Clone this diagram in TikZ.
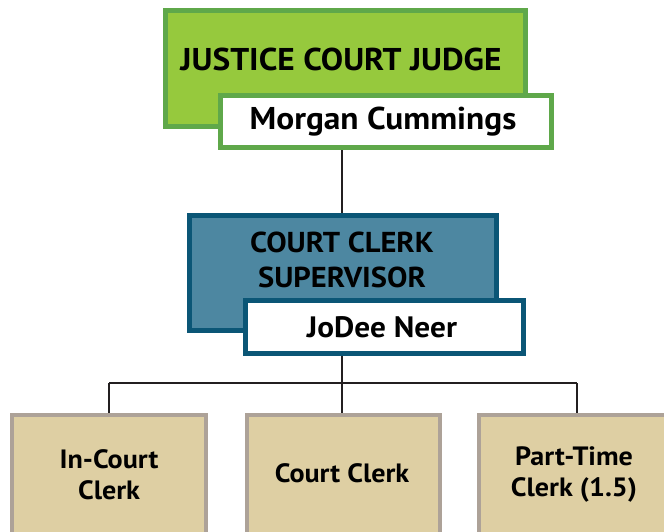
\documentclass[tikz,border=0pt]{standalone}
\usepackage{fontspec}
\setmainfont[FakeStretch=1.06]{PT Sans}
\definecolor{gfill}{HTML}{96C93D}
\definecolor{gline}{HTML}{5FA84A}
\definecolor{bfill}{HTML}{4D87A1}
\definecolor{bline}{HTML}{0B5676}
\definecolor{tfill}{HTML}{DECFA3}
\definecolor{tline}{HTML}{ADA298}
\definecolor{conn}{HTML}{231F20}
\tikzset{
  box/.style={rectangle, inner sep=0pt, line width=5pt},
  greenbox/.style={box, draw=gline, fill=gfill},
  bluebox/.style={box, draw=bline, fill=bfill},
  namebox/.style={box, fill=white},
  tanbox/.style={rectangle, inner sep=0pt, line width=4pt, draw=tline, fill=tfill, minimum width=194pt, minimum height=120pt},
  lbl/.style={font=\bfseries, text=black, inner sep=0pt, align=center},
  conline/.style={draw=conn, line width=2pt}
}
\begin{document}
\begin{tikzpicture}[x=1pt,y=-1pt]
\useasboundingbox (0,0) rectangle (664,531);
% top
\node[greenbox, minimum width=360pt, minimum height=116pt] (judge) at (345,68) {};
\node[lbl, font=\bfseries\fontsize{31.5}{34}\selectfont] (judgetxt) at (341,59) {JUSTICE COURT JUDGE};
\node[namebox, draw=gline, minimum width=331pt, minimum height=52pt] (morgan) at (386,121.5) {};
\node[lbl, font=\bfseries\fontsize{31.5}{34}\selectfont] (morgantxt) at (383,122) {Morgan Cummings};
% supervisor
\node[bluebox, minimum width=307pt, minimum height=115pt] (sup) at (343,273) {};
\node[lbl, font=\bfseries\fontsize{28.8}{35}\selectfont] (suptxt) at (342,260) {COURT CLERK\\SUPERVISOR};
\node[namebox, draw=bline, minimum width=278pt, minimum height=53pt] (jodee) at (384.5,327) {};
\node[lbl, font=\bfseries\fontsize{29.5}{30}\selectfont] (jodeetxt) at (382,327) {JoDee Neer};
% children
\node[tanbox] (c1) at (109,475) {};
\node[tanbox, minimum width=193pt] (c2) at (343.5,475) {};
\node[tanbox, minimum width=196pt] (c3) at (577,475) {};
\node[lbl, font=\bfseries\fontsize{26.5}{31}\selectfont] (c1txt) at (109,475) {In-Court\\Clerk};
\node[lbl, font=\bfseries\fontsize{26.5}{31}\selectfont] (c2txt) at (342,473) {Court Clerk};
\node[lbl, font=\bfseries\fontsize{26.5}{31}\selectfont] (c3txt) at (574,474) {Part-Time\\Clerk (1.5)};
% connectors
\coordinate (bus) at (342,383);
\draw[conline] (morgan.south -| bus) -- (sup.north -| bus);
\draw[conline] (jodee.south -| bus) -- (bus);
\draw[conline] (bus -| c1.north) -- (bus -| c3.north);
\draw[conline] (bus -| c1.north) -- (c1.north);
\draw[conline] (bus) -- (c2.north -| bus);
\draw[conline] (bus -| c3.north) -- (c3.north);
\end{tikzpicture}
\end{document}
